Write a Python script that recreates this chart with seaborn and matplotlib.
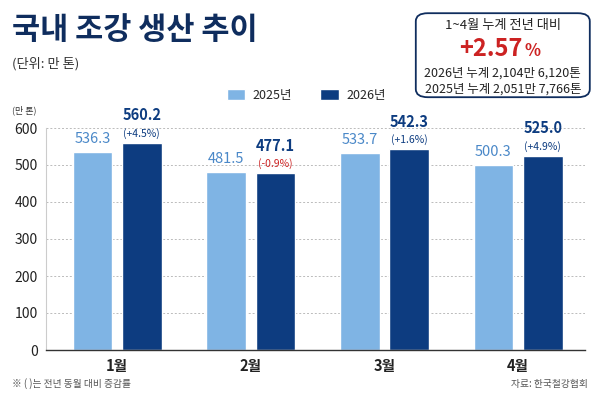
import pandas as pd
import seaborn as sns
import matplotlib.pyplot as plt
from matplotlib.patches import FancyBboxPatch, Patch

months = ['1월', '2월', '3월', '4월']
prod_2025 = [536.3, 481.5, 533.7, 500.3]
prod_2026 = [560.2, 477.1, 542.3, 525.0]
pct_change = ['+4.5%', '-0.9%', '+1.6%', '+4.9%']
years = ['2025년', '2026년']

LIGHT = '#7fb4e4'
NAVY = '#0d3c80'
TITLE = '#0f2d5e'
RED = '#cc2222'

df = pd.DataFrame({
    'month': months * 2,
    'year': [years[0]] * 4 + [years[1]] * 4,
    'value': prod_2025 + prod_2026,
})

sns.set_style('white')
plt.rcParams['font.family'] = ['Noto Sans CJK KR', 'DejaVu Sans']

fig = plt.figure(figsize=(6, 4), dpi=100)
ax = fig.add_axes([0.077, 0.125, 0.898, 0.555])

sns.barplot(data=df, x='month', y='value', hue='year', palette=[LIGHT, NAVY],
            width=0.74, gap=0.2, ax=ax, legend=False, saturation=1)

ax.set_ylim(0, 600)
ax.set_xlim(-0.53, 3.5)
ax.set_yticks(range(0, 601, 100))
ax.yaxis.grid(True, linestyle=(0, (2, 2)), color='#bbbbbb', linewidth=0.7)
ax.set_axisbelow(True)
for s in ['top', 'right']:
    ax.spines[s].set_visible(False)
ax.spines['left'].set_color('#cccccc')
ax.spines['left'].set_linewidth(0.8)
ax.spines['bottom'].set_color('#333333')
ax.spines['bottom'].set_linewidth(1.0)
ax.tick_params(axis='y', labelsize=10, colors='#222222', length=0, pad=6)
ax.tick_params(axis='x', labelsize=10.5, colors='#222222', length=0, pad=6)
for lbl in ax.get_xticklabels():
    lbl.set_fontweight('bold')
ax.set_xlabel('')
ax.set_ylabel('')

# value labels
bars = ax.patches
for i in range(4):
    b1 = bars[i]
    b2 = bars[4 + i]
    x1 = b1.get_x() + b1.get_width() / 2
    x2 = b2.get_x() + b2.get_width() / 2
    ax.annotate(f'{prod_2025[i]:.1f}', (x1, prod_2025[i]), xytext=(0, 4),
                textcoords='offset points', ha='center', va='bottom',
                fontsize=10.5, color='#4a88c8')
    ax.annotate(f'{prod_2026[i]:.1f}', (x2, prod_2026[i]), xytext=(0, 14),
                textcoords='offset points', ha='center', va='bottom',
                fontsize=10.5, color=NAVY, fontweight='bold')
    col = RED if pct_change[i].startswith('-') else NAVY
    ax.annotate(f'({pct_change[i]})', (x2, prod_2026[i]), xytext=(0, 3),
                textcoords='offset points', ha='center', va='bottom',
                fontsize=7.5, color=col)

# title etc
fig.text(0.02, 0.925, '국내 조강 생산 추이', fontsize=22, fontweight='bold',
         color=TITLE, ha='left', va='center')
fig.text(0.02, 0.84, '(단위: 만 톤)', fontsize=9.5, color='#333333',
         ha='left', va='center')
fig.text(0.02, 0.725, '(만 톤)', fontsize=6.5, color='#333333',
         ha='left', va='center')

# legend
handles = [Patch(facecolor=LIGHT), Patch(facecolor=NAVY)]
fig.legend(handles, years, loc='center', bbox_to_anchor=(0.51, 0.762),
           ncol=2, frameon=False, fontsize=9, handlelength=1.5,
           handleheight=1.0, columnspacing=2.2, handletextpad=0.6)

# summary box
box = FancyBboxPatch((0.693, 0.757), 0.29, 0.21,
                     boxstyle='round,pad=0,rounding_size=0.02',
                     transform=fig.transFigure, facecolor='white',
                     edgecolor=TITLE, linewidth=1.3)
fig.patches.append(box)
fig.text(0.838, 0.935, '1~4월 누계 전년 대비', fontsize=9.5, color='#222222',
         ha='center', va='center')
big = fig.text(0.818, 0.878, '+2.57', fontsize=17, fontweight='bold', color=RED,
               ha='center', va='center')
fig.canvas.draw()
bb = big.get_window_extent().transformed(fig.transFigure.inverted())
fig.text(bb.x1 + 0.004, 0.872, '%', fontsize=12, fontweight='bold', color=RED,
         ha='left', va='center')
fig.text(0.838, 0.818, '2026년 누계 2,104만 6,120톤', fontsize=9,
         color='#222222', ha='center', va='center')
fig.text(0.838, 0.778, '2025년 누계 2,051만 7,766톤', fontsize=9,
         color='#222222', ha='center', va='center')

# footer
fig.text(0.02, 0.04, '※ ( )는 전년 동월 대비 증감률', fontsize=7,
         color='#555555', ha='left', va='center')
fig.text(0.98, 0.04, '자료: 한국철강협회', fontsize=7, color='#555555',
         ha='right', va='center')

fig.savefig('out.png', dpi=100, facecolor='white')
